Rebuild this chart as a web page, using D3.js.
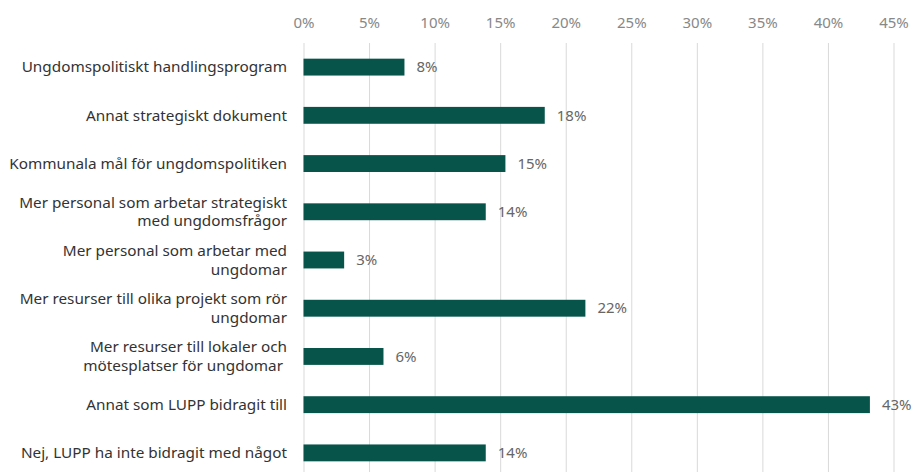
<!DOCTYPE html>
<html lang="sv">
<head>
<meta charset="utf-8">
<script src="https://d3js.org/d3.v7.min.js"></script>
<style>
body { margin: 0; background: #fff; }
svg text { font-family: "Noto Sans", "Open Sans", sans-serif; }
.cat { fill: #333333; font-size: 15.3px; text-anchor: end; white-space: pre; }
.val { fill: #666666; font-size: 15px; }
.tick text { fill: #888888; font-size: 15px; }
</style>
</head>
<body>
<script>
// categories (each label split into its lines as in the chart)
var categories = [
  ["Ungdomspolitiskt handlingsprogram"],
  ["Annat strategiskt dokument"],
  ["Kommunala mål för ungdomspolitiken"],
  ["Mer personal som arbetar strategiskt", "med ungdomsfrågor"],
  ["Mer personal som arbetar med", "ungdomar"],
  ["Mer resurser till olika projekt som rör", "ungdomar"],
  ["Mer resurser till lokaler och", "mötesplatser för ungdomar "],
  ["Annat som LUPP bidragit till"],
  ["Nej, LUPP ha inte bidragit med något"]
];
// share in percent
var values = [7.7, 18.4, 15.4, 13.9, 3.1, 21.5, 6.1, 43.2, 13.9];
var ticks = [0, 5, 10, 15, 20, 25, 30, 35, 40, 45];

var width = 914, height = 472;
var x0 = 303.5, x1 = 893.5;

var svg = d3.select("body").append("svg")
  .attr("width", width)
  .attr("height", height);

var x = d3.scaleLinear().domain([0, 45]).range([x0, x1]);
var y = d3.scaleBand()
  .domain(d3.range(categories.length))
  .range([43, 477])
  .paddingInner(0.65)
  .paddingOuter(0.325);

// gridlines + top labels
var xAxis = d3.axisTop(x)
  .tickValues(ticks)
  .tickSize(-(height - 43))
  .tickPadding(15)
  .tickFormat(function(d) { return d + "%"; });

var gx = svg.append("g")
  .attr("transform", "translate(0,43)")
  .call(xAxis);
gx.select(".domain").remove();
gx.selectAll(".tick line").attr("stroke", "#d9d9d9").attr("stroke-width", 1);

// bars
svg.selectAll("rect.bar")
  .data(values)
  .enter()
  .append("rect")
  .attr("class", "bar")
  .attr("x", x(0))
  .attr("y", function(d, i) { return y(i); })
  .attr("width", function(d) { return x(d) - x(0); })
  .attr("height", y.bandwidth())
  .attr("fill", "#06544a");

// value labels
svg.selectAll("text.val")
  .data(values)
  .enter()
  .append("text")
  .attr("class", "val")
  .attr("x", function(d) { return x(d) + 12; })
  .attr("y", function(d, i) { return y(i) + y.bandwidth() / 2; })
  .attr("dy", "0.35em")
  .text(function(d) { return Math.round(d) + "%"; });

// category labels
var lineH = 18.7;
var cat = svg.selectAll("text.cat")
  .data(categories)
  .enter()
  .append("text")
  .attr("class", "cat")
  .attr("x", 287)
  .attr("y", function(d, i) { return y(i) + y.bandwidth() / 2 - (d.length - 1) * lineH / 2; });

cat.selectAll("tspan")
  .data(function(d) { return d; })
  .enter()
  .append("tspan")
  .attr("x", 287)
  .attr("dy", function(d, i) { return i === 0 ? "0.35em" : lineH; })
  .text(function(d) { return d; });
</script>
</body>
</html>
